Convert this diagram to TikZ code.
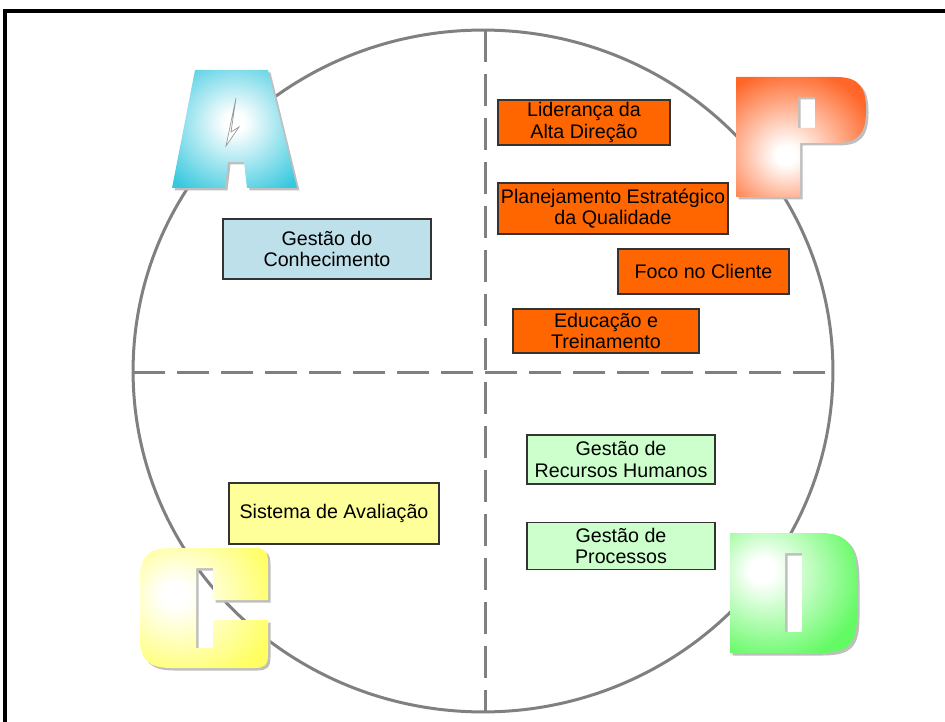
\documentclass[tikz,border=0pt]{standalone}
\usepackage{fontspec}
\setsansfont{Liberation Sans}
\usetikzlibrary{positioning}

\definecolor{planFill}{RGB}{255,102,0}
\definecolor{actFill}{RGB}{190,224,234}
\definecolor{checkFill}{RGB}{255,255,153}
\definecolor{doFill}{RGB}{204,255,204}
\definecolor{letterA}{RGB}{55,200,222}
\definecolor{letterP}{RGB}{255,102,40}
\definecolor{letterC}{RGB}{255,255,100}
\definecolor{letterD}{RGB}{100,250,100}

\pgfdeclareradialshading{shadeA}{\pgfpoint{0bp}{3bp}}{color(0bp)=(white);color(4bp)=(white);color(34bp)=(letterA);color(100bp)=(letterA)}
\pgfdeclareradialshading{shadeP}{\pgfpoint{-6bp}{-8bp}}{color(0bp)=(white);color(4bp)=(white);color(34bp)=(letterP);color(100bp)=(letterP)}
\pgfdeclareradialshading{shadeC}{\pgfpoint{-12bp}{6bp}}{color(0bp)=(white);color(5bp)=(white);color(36bp)=(letterC);color(100bp)=(letterC)}
\pgfdeclareradialshading{shadeD}{\pgfpoint{-13bp}{10bp}}{color(0bp)=(white);color(5bp)=(white);color(36bp)=(letterD);color(100bp)=(letterD)}

\begin{document}
\begin{tikzpicture}[x=0.02cm, y=-0.02cm, semithick]
	\tikzstyle{pdcaBox} = [draw=black!80, line width=0.8pt, rectangle, inner sep=0pt, align=center, font={\sffamily\fontsize{11.2}{12.3}\selectfont}]
	\tikzstyle{planBox} = [pdcaBox, fill=planFill];
	\tikzstyle{actBox} = [pdcaBox, fill=actFill];
	\tikzstyle{checkBox} = [pdcaBox, fill=checkFill];
	\tikzstyle{doBox} = [pdcaBox, fill=doFill];
	\tikzstyle{cycleLine} = [black!50, line width=0.06cm];
	\tikzstyle{quadrantLine} = [cycleLine, dash pattern=on 0.64cm off 0.24cm];
	\tikzstyle{letterShadow} = [preaction={fill=black!25, transform canvas={xshift=0.05cm, yshift=-0.05cm}}];

	\useasboundingbox (0,0) rectangle (945,722);
	\draw[line width=0.08cm] (5,722) -- (5,11) -- (945,11);

	% cycle and quadrants
	\coordinate (top) at (485,30);
	\coordinate (bottom) at (485,712);
	\coordinate (west) at (133,372);
	\coordinate (east) at (833,372);
	\draw[cycleLine] (483,371) ellipse [x radius=7cm, y radius=6.82cm];
	\draw[quadrantLine] (top) -- (bottom);
	\draw[quadrantLine] (west) -- (east);

	% letters
	\shade[letterShadow, shading=shadeA] (195,70) -- (268,70) -- (297,188) -- (247,188) -- (244,162) -- (228,162) -- (225,188) -- (172,188) -- cycle;
	\filldraw[fill=white, draw=black!40, line width=0.4pt] (236,98) -- (226,146) -- (239,127) -- (231,132) -- cycle;
	\shade[letterShadow, shading=shadeP, even odd rule] (736,77) -- (836,77) .. controls (860,77) and (866,88) .. (866,110) .. controls (866,134) and (858,143) .. (836,143) -- (800,143) -- (800,197) -- (736,197) -- cycle (798,97) rectangle (815,128);
	\shade[letterShadow, shading=shadeC] (268,600) -- (268,562) .. controls (268,551) and (264,548) .. (255,548) -- (172,548) .. controls (148,548) and (140,556) .. (140,580) -- (140,636) .. controls (140,660) and (148,668) .. (172,668) -- (255,668) .. controls (264,668) and (268,665) .. (268,655) -- (268,620) -- (213,620) -- (213,648) -- (196,648) -- (196,568) -- (213,568) -- (213,600) -- cycle;
	\shade[letterShadow, shading=shadeD, even odd rule] (730,533) -- (820,533) .. controls (850,533) and (857,548) .. (857,580) -- (857,615) .. controls (857,645) and (848,653) .. (820,653) -- (730,653) -- cycle (785,553) rectangle (802,632);

	% plan
	\node[planBox, minimum width=3.44cm, minimum height=0.9cm](lider) at (584,122.5) {Liderança da\\Alta Direção};
	\node[planBox, minimum width=4.6cm, minimum height=1.02cm](planej) at (613,208.5) {Planejamento Estratégico\\da Qualidade};
	\node[planBox, minimum width=3.42cm, minimum height=0.9cm](foco) at (703.5,271.5) {Foco no Cliente};
	\node[planBox, minimum width=3.72cm, minimum height=0.88cm](educ) at (606,331) {Educação e\\Treinamento};
	% act
	\node[actBox, minimum width=4.16cm, minimum height=1.2cm](conhec) at (327,249) {Gestão do\\Conhecimento};
	% check
	\node[checkBox, minimum width=4.2cm, minimum height=1.22cm](avalia) at (334,513.5) {Sistema de Avaliação};
	% do
	\node[doBox, minimum width=3.76cm, minimum height=0.98cm](rh) at (621,459.5) {Gestão de\\Recursos Humanos};
	\node[doBox, minimum width=3.76cm, minimum height=0.94cm](proc) [below=0.74cm of rh] {Gestão de\\Processos};
\end{tikzpicture}
\end{document}
